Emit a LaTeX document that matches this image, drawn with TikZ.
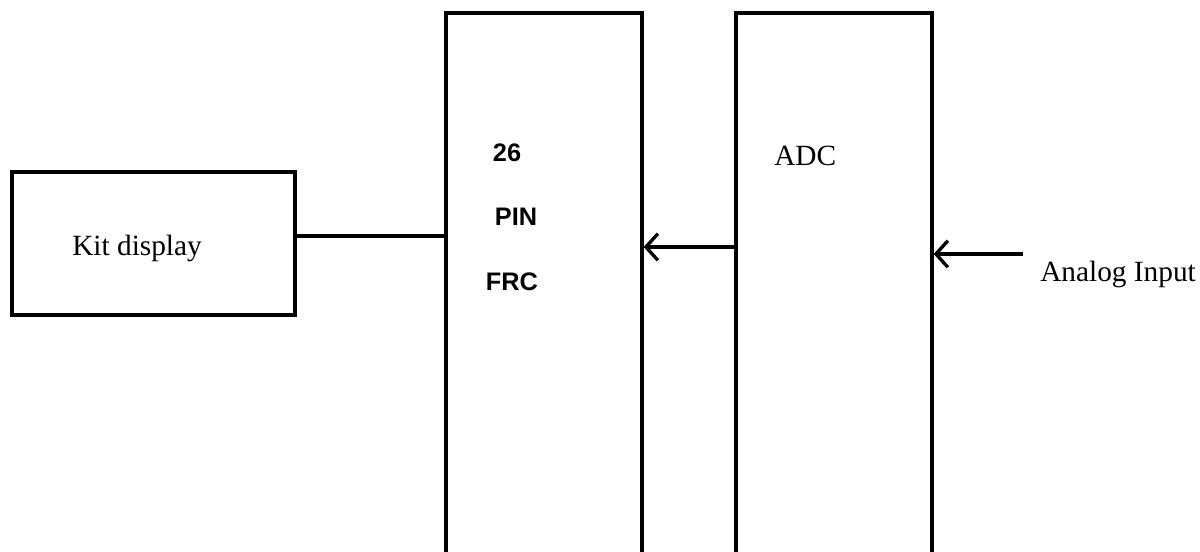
\documentclass[tikz,border=0pt]{standalone}
\usepackage{fontspec}
\setmainfont{Liberation Serif}
\newfontfamily\labelsans{Liberation Sans}
\usetikzlibrary{arrows.meta,calc}

\begin{document}
\begin{tikzpicture}[x=0.75pt,y=-0.75pt,
  block/.style={draw,line width=2.5pt,inner sep=0pt},
  wire/.style={line width=2.5pt},
  barb/.style={-{Straight Barb[length=9pt,width=20pt,line width=2.5pt]}},
  serif/.style={font=\fontsize{22}{26}\selectfont,inner sep=0pt},
  pinlbl/.style={font=\labelsans\bfseries\fontsize{19}{22}\selectfont,inner sep=0pt}]

\useasboundingbox (0,0) rectangle (1200,552);
\clip (0,0) rectangle (1200,552);

% Define the blocks.
\node[block,minimum width=212.25pt,minimum height=107.25pt] (kit) at (153.5,243.5) {};
\node[block,minimum width=147pt,minimum height=425.25pt] (frc) at (544,296.5) {};
\node[block,minimum width=147pt,minimum height=425.25pt] (adc) at (834,296.5) {};

% Levels of the connectors.
\coordinate (lvlkit) at (0,236);
\coordinate (lvladc) at (0,247);
\coordinate (ain) at (1023,254);

\draw[wire] (kit.east |- lvlkit) -- (frc.west |- lvlkit);
\draw[wire,barb] (adc.west |- lvladc) -- (frc.east |- lvladc);
\draw[wire,barb] (ain) -- (ain -| adc.east);

% Labels.
\node[serif,anchor=base west] (kittxt) at (72,256) {Kit display};
\node[serif,anchor=base west] (adctxt) at (774,166) {ADC};
\node[serif,anchor=base west] (aintxt) at (1040,282) {Analog Input};

\node[pinlbl] (pin26) at (507,153) {26};
\node[pinlbl] (pinpin) at (516,217) {PIN};
\node[pinlbl] (pinfrc) at (512,282) {FRC};

\end{tikzpicture}
\end{document}
